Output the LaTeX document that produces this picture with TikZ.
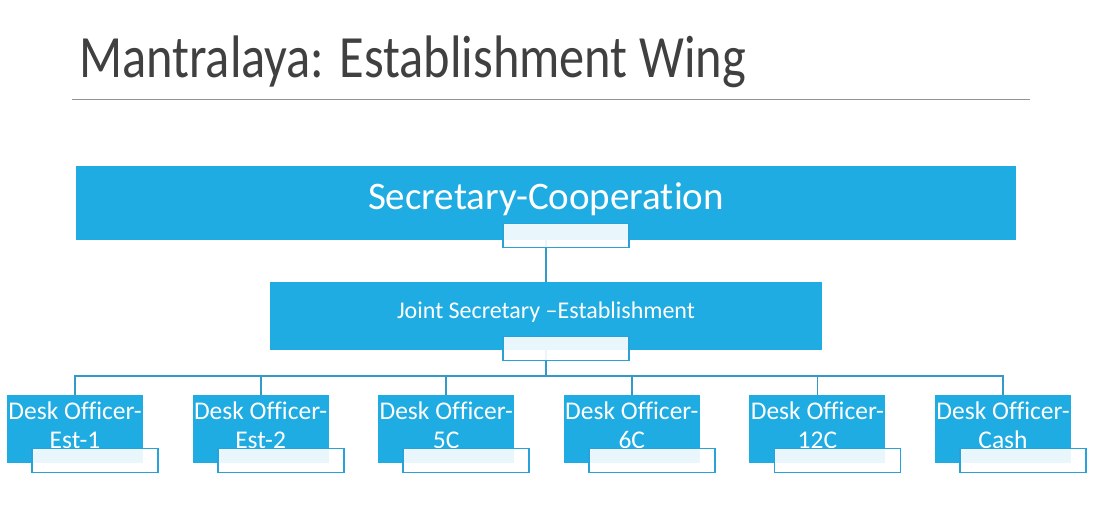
\documentclass[tikz,border=0pt]{standalone}
\usepackage{fontspec}
\setmainfont{Carlito}[Ligatures=NoCommon]
\newfontfamily\titlefont{Carlito}[FakeStretch=0.84,Ligatures=NoCommon]
\usepackage{tikz}
\definecolor{boxblue}{HTML}{1FACE2}
\definecolor{linkblue}{HTML}{3399C8}
\definecolor{tabline}{HTML}{27A3DA}
\definecolor{titlegray}{HTML}{404040}

\begin{document}
\begin{tikzpicture}[x=1pt,y=-1pt,
  unit/.style={fill=boxblue,text=white,inner sep=0pt,align=center},
  tabbox/.style={draw=tabline,line width=1.8pt,fill=white,fill opacity=0.9,minimum width=126,minimum height=24,inner sep=0pt},
  link/.style={draw=linkblue,line width=1.8pt}]
\useasboundingbox (0,0) rectangle (1119,509);
\node[anchor=base west,inner sep=0pt,text=titlegray,font=\titlefont\fontsize{60}{72}\selectfont] (title) at (79,77) {Mantralaya: Establishment Wing};
\coordinate (ruleL) at (72,99); \coordinate (ruleR) at (1030,99);
\draw[gray!85,line width=1pt] (ruleL)--(ruleR);
% boxes
\node[unit,minimum width=940,minimum height=74,
  label={[text=white,inner sep=0pt,yshift=4pt,font=\fontsize{39}{44}\selectfont]center:Secretary-Cooperation}] (sec) at (546,203) {};
\node[unit,minimum width=552,minimum height=68,
  label={[text=white,inner sep=0pt,yshift=4pt,font=\fontsize{24}{28}\selectfont]center:Joint Secretary --Establishment}] (js) at (546,316) {};
\foreach \i/\xx/\lab in {1/75/Est-1,2/260.6/Est-2,3/446.2/5C,4/631.8/6C,5/817.4/12C,6/1003/Cash}{
  \node[unit,minimum width=136,minimum height=68,
    label={[text=white,inner sep=0pt,align=center,yshift=4pt,font=\fontsize{25.5}{29}\selectfont]center:Desk Officer-\\\lab}] (d\i) at (\xx,429) {};}
% links
\draw[link] (sec.south)--(js.north);
\draw[link] (js.south)--++(0,26) coordinate (bus);
\foreach \i in {1,...,6}{\draw[link] (bus) -| (d\i.north);}
% tabs
\node[tabbox] (sectab) at (566,235.5) {};
\node[tabbox] (jstab) at (566,348.5) {};
\foreach \i in {1,...,6}{\node[tabbox] (t\i) at ([xshift=20pt,yshift=-31.5pt]d\i.center) {};}
\end{tikzpicture}
\end{document}
